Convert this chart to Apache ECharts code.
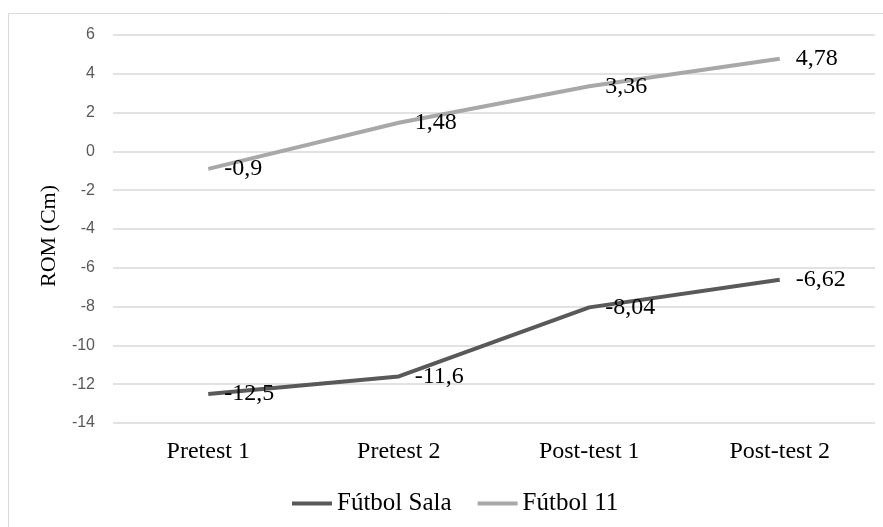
<!DOCTYPE html>
<html><head><meta charset="utf-8">
<script src="https://cdn.jsdelivr.net/npm/echarts@6/dist/echarts.min.js"></script>
<style>html,body{margin:0;padding:0;background:#fff}#c{width:883px;height:527px}</style>
</head><body><div id="c"></div>
<script>
const categories = ['Pretest 1', 'Pretest 2', 'Post-test 1', 'Post-test 2'];
const futbolSala = [-12.5, -11.6, -8.04, -6.62];
const futbol11 = [-0.9, 1.48, 3.36, 4.78];
const yTicks = {min: -14, max: 6, interval: 2};

const chart = echarts.init(document.getElementById('c'), null, {renderer: 'canvas'});
const serif = '"Liberation Serif", "Times New Roman", serif';
const lbl = {
  show: true, position: 'right', distance: 16,
  fontFamily: serif, fontSize: 24, color: '#000',
  padding: [3, 0, 0, 0],
  formatter: p => String(p.value).replace('.', ',')
};
chart.setOption({
  animation: false,
  graphic: [{type: 'rect', shape: {x: 8.5, y: 13.5, width: 890, height: 530},
    style: {fill: 'none', stroke: '#d9d9d9', lineWidth: 1}, silent: true, z: -1}],
  grid: {left: 113, right: 8, top: 35, bottom: 104},
  legend: {
    data: ['Fútbol Sala', 'Fútbol 11'], left: 287, top: 486,
    itemWidth: 40, itemHeight: 4, itemGap: 26,
    icon: 'rect',
    textStyle: {fontFamily: serif, fontSize: 25, color: '#000', padding: [0, 0, 0, 0]}
  },
  xAxis: {
    type: 'category', data: categories, boundaryGap: true,
    axisLine: {show: false}, axisTick: {show: false},
    axisLabel: {fontFamily: serif, fontSize: 24, color: '#000', margin: 17}
  },
  yAxis: {
    type: 'value', min: yTicks.min, max: yTicks.max, interval: yTicks.interval,
    name: 'ROM (Cm)', nameLocation: 'middle', nameGap: 53,
    nameTextStyle: {fontFamily: serif, fontSize: 22, color: '#000', padding: [0, 0, 0, -14]},
    axisLine: {show: false}, axisTick: {show: false},
    axisLabel: {fontFamily: '"Liberation Sans", Arial, sans-serif', fontSize: 16, color: '#595959', margin: 18},
    splitLine: {lineStyle: {color: '#d9d9d9', width: 1.5}}
  },
  series: [
    {name: 'Fútbol Sala', type: 'line', data: futbolSala, symbol: 'circle', symbolSize: 0, showSymbol: true,
     lineStyle: {color: '#595959', width: 4}, itemStyle: {color: '#595959'}, label: lbl},
    {name: 'Fútbol 11', type: 'line', data: futbol11, symbol: 'circle', symbolSize: 0, showSymbol: true,
     lineStyle: {color: '#a8a8a8', width: 4}, itemStyle: {color: '#a8a8a8'}, label: lbl}
  ]
});
</script></body></html>
